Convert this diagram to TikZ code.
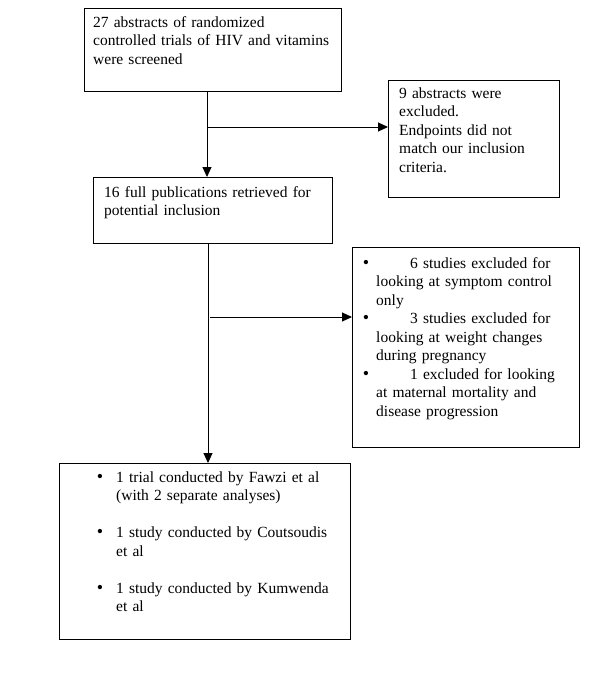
\documentclass[tikz,border=0pt]{standalone}
\usepackage{fontspec}
\setmainfont{Liberation Serif}
\usetikzlibrary{arrows.meta}
\newcommand{\bul}[1]{\leavevmode\llap{{\fontsize{18}{18.5}\selectfont\textbullet}\hspace{#1}}}
\begin{document}
\begin{tikzpicture}[x=1pt,y=-1pt,
  box/.style={draw, line width=1pt, inner sep=0pt, anchor=north west},
  txt/.style={anchor=north west, inner sep=0pt, text width=#1, align=left,
    font=\fontsize{15.5}{18.5}\selectfont},
  arr/.style={line width=1pt, -{Triangle[length=10pt,width=9pt]}}]
\useasboundingbox[fill=white] (0,0) rectangle (600,678);
% boxes
\node[box, minimum width=257pt, minimum height=83pt] (b1) at (84,8) {};
\node[box, minimum width=171pt, minimum height=117pt] (b2) at (388,80) {};
\node[box, minimum width=239pt, minimum height=66pt] (b3) at (93,177) {};
\node[box, minimum width=227pt, minimum height=200pt] (b4) at (352,247) {};
\node[box, minimum width=291pt, minimum height=176pt] (b5) at (59,463) {};
% texts
\node[txt=245pt] (t1) at (93,14) {\strut 27 abstracts of randomized\\controlled trials of HIV and vitamins\\were screened};
\node[txt=160pt] (t2) at (399,85) {\strut 9 abstracts were\\excluded.\\Endpoints did not\\match our inclusion\\criteria.};
\node[txt=225pt] (t3) at (104,184) {\strut 16 full publications retrieved for\\potential inclusion};
\node[txt=200pt] (t4) at (376,255) {\strut\bul{7pt}\hspace{34pt}6 studies excluded for\\looking at symptom control\\only\\
\bul{7pt}\hspace{34pt}3 studies excluded for\\looking at weight changes\\during pregnancy\\
\bul{7pt}\hspace{34pt}1 excluded for looking\\at maternal mortality and\\disease progression};
\node[txt=230pt] (t5) at (116,469) {\strut\bul{13pt}1 trial conducted by Fawzi et al\\(with 2 separate analyses)\\[18.5pt]
\bul{13pt}1 study conducted by Coutsoudis\\et al\\[18.5pt]
\bul{13pt}1 study conducted by Kumwenda\\et al};
% junction coordinates
\coordinate (ja) at (207,127);
\coordinate (jb) at (208,317);
\coordinate (jc) at (210,317);
% connectors
\draw[arr] (b1.south -| ja) -- (b3.north -| ja);
\draw[arr] (ja) -- (ja -| b2.west);
\draw[arr] (b3.south -| jb) -- (b5.north -| jb);
\draw[arr] (jc) -- (jc -| b4.west);
\end{tikzpicture}
\end{document}
